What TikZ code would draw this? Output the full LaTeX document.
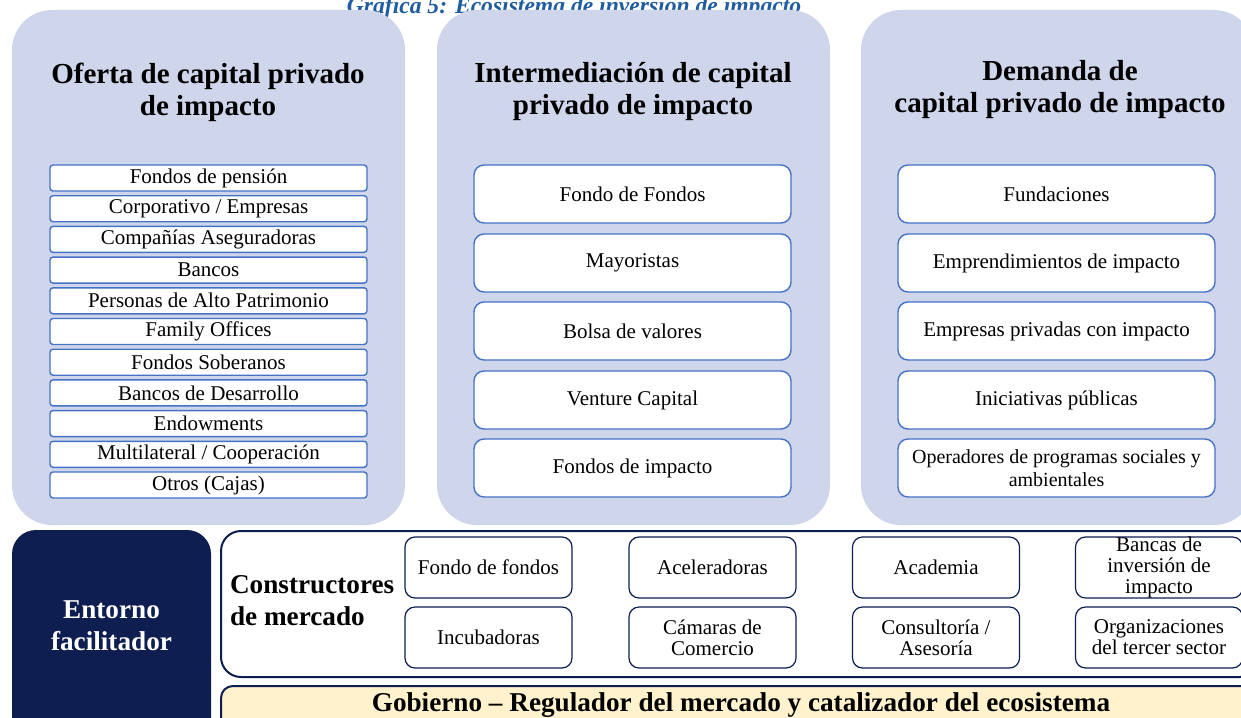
\documentclass[tikz,border=0pt]{standalone}
\usepackage{fontspec}
\setmainfont{Liberation Serif}
\usepackage{tikz}

\definecolor{panelfill}{RGB}{207,213,234}
\definecolor{listblue}{RGB}{68,114,196}
\definecolor{navy}{RGB}{14,30,80}
\definecolor{govfill}{RGB}{255,242,204}
\definecolor{titleblue}{RGB}{31,92,160}

\begin{document}
\begin{tikzpicture}[x=0.5pt, y=-0.5pt,
	panel/.style={fill=panelfill, rounded corners=20pt, minimum width=196.5pt, minimum height=257.5pt, inner sep=0pt},
	heading/.style={font=\fontsize{14.5}{16}\selectfont\bfseries, align=center},
	entity/.style={draw=listblue, fill=white, line width=0.7pt, rounded corners=1.5pt, minimum width=158.5pt, minimum height=13pt, inner sep=0pt, font=\fontsize{10.5}{11.5}\selectfont},
	bigentity/.style={entity, rounded corners=5pt, minimum height=29pt, align=center},
	builder/.style={draw=navy, fill=white, line width=0.6pt, rounded corners=5pt, minimum width=83.5pt, minimum height=30.5pt, inner sep=0pt, align=center, font=\fontsize{10.5}{10.5}\selectfont},
	bigtext/.style={font=\fontsize{13.6}{16}\selectfont\bfseries}]
			\useasboundingbox (0,0) rectangle (1241,717);
			\clip (0,0) rectangle (1241,717);
			
			\node[anchor=base, text=titleblue, font=\fontsize{11.8}{13}\selectfont\bfseries\itshape] (titulo) at (574,14){Gráfica 5: Ecosistema de inversión de impacto};
			
			\node[panel] (oferta) at (208.5,267.5){};
			\node[panel] (inter) at (633.5,267.5){};
			\node[panel] (demanda) at (1057.5,267.5){};
			
			\node[heading] (h1) at (208,92){Oferta de capital privado\\de impacto};
			\node[heading] (h2) at (633,92){Intermediación de capital\\privado de impacto};
			\node[heading] (h3) at (1060,90){Demanda de\\capital privado de impacto};
			
			\node[entity] (o1) at (208.5,178){Fondos de pensión};
			\node[entity] (o2) at (208.5,208.7){Corporativo / Empresas};
			\node[entity] (o3) at (208.5,239.4){Compañías Aseguradoras};
			\node[entity] (o4) at (208.5,270.1){Bancos};
			\node[entity] (o5) at (208.5,300.8){Personas de Alto Patrimonio};
			\node[entity] (o6) at (208.5,331.5){Family Offices};
			\node[entity] (o7) at (208.5,362.2){Fondos Soberanos};
			\node[entity] (o8) at (208.5,392.9){Bancos de Desarrollo};
			\node[entity] (o9) at (208.5,423.6){Endowments};
			\node[entity] (o10) at (208.5,454.3){Multilateral / Cooperación};
			\node[entity] (o11) at (208.5,485){Otros (Cajas)};
			
			\node[bigentity] (i1) at (632.5,194){Fondo de Fondos};
			\node[bigentity] (i2) at (632.5,263){Mayoristas};
			\node[bigentity] (i3) at (632.5,331){Bolsa de valores};
			\node[bigentity] (i4) at (632.5,400){Venture Capital};
			\node[bigentity] (i5) at (632.5,468){Fondos de impacto};
			
			\node[bigentity] (d1) at (1056.5,194){Fundaciones};
			\node[bigentity] (d2) at (1056.5,263){Emprendimientos de impacto};
			\node[bigentity] (d3) at (1056.5,331){Empresas privadas con impacto};
			\node[bigentity] (d4) at (1056.5,400){Iniciativas públicas};
			\node[bigentity, font=\fontsize{10}{11.5}\selectfont] (d5) at (1056.5,468){Operadores de programas sociales y\\ambientales};
			
			\node[fill=navy, rounded corners=12pt, minimum width=99.5pt, minimum height=115pt, inner sep=0pt] (entorno) at (111.5,645){};
			\node[bigtext, text=white, align=center] (entornotxt) at (111.5,626){Entorno\\facilitador};
			
			\node[draw=navy, fill=white, line width=1pt, rounded corners=10pt, minimum width=519.5pt, minimum height=73pt, inner sep=0pt] (marco) at (740.5,604){};
			\node[bigtext, anchor=west, align=left] (constr) at (223,601){Constructores\\de mercado};
			
			\node[builder] (b1) at (488.5,567.5){Fondo de fondos};
			\node[builder] (b2) at (712.5,567.5){Aceleradoras};
			\node[builder] (b3) at (936,567.5){Academia};
			\node[builder] (b4) at (1159,567.5){Bancas de\\inversión de\\impacto};
			\node[builder] (b5) at (488.5,637.5){Incubadoras};
			\node[builder] (b6) at (712.5,637.5){Cámaras de\\Comercio};
			\node[builder] (b7) at (936,637.5){Consultoría /\\Asesoría};
			\node[builder] (b8) at (1159,637.5){Organizaciones\\del tercer sector};
			
			\node[draw=navy, fill=govfill, line width=1pt, rounded corners=6pt, minimum width=519.5pt, minimum height=40pt, inner sep=0pt] (gobierno) at (740.5,726){};
			\node[bigtext] (gobtxt) at (741,705){Gobierno – Regulador del mercado y catalizador del ecosistema};
			\end{tikzpicture}
\end{document}
